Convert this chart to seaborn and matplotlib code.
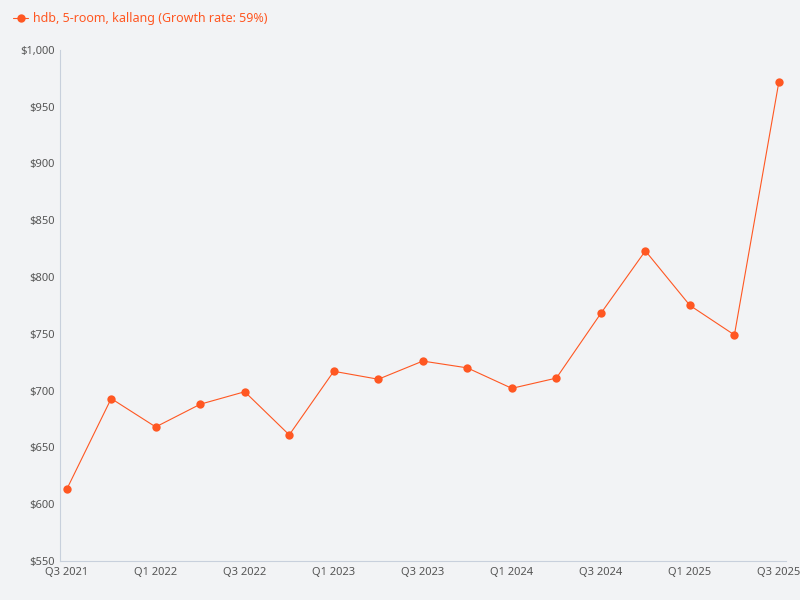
import matplotlib
matplotlib.use("Agg")
import matplotlib.pyplot as plt
import seaborn as sns
import pandas as pd
from matplotlib.ticker import FuncFormatter

quarters = ["Q3 2021","Q4 2021","Q1 2022","Q2 2022","Q3 2022","Q4 2022","Q1 2023","Q2 2023",
            "Q3 2023","Q4 2023","Q1 2024","Q2 2024","Q3 2024","Q4 2024","Q1 2025","Q2 2025","Q3 2025"]
values = [613,693,668,688,699,661,717,710,726,720,702,711,768,823,775,749,972]
tick_labels = ["Q3 2021","Q1 2022","Q3 2022","Q1 2023","Q3 2023","Q1 2024","Q3 2024","Q1 2025","Q3 2025"]

sns.set_theme(style="white")
plt.rcParams['font.family'] = ['Noto Sans', 'DejaVu Sans']
bg = "#f2f3f5"
color = "#ff5722"
df = pd.DataFrame({"x": range(len(quarters)), "v": values})

fig = plt.figure(figsize=(8, 6), dpi=100, facecolor=bg)
ax = fig.add_axes([0.075, 0.065, 0.907, 0.852])
ax.set_facecolor(bg)
sns.lineplot(data=df, x="x", y="v", ax=ax, color=color, linewidth=0.8, marker="o",
             markersize=6, markeredgewidth=0, label="hdb, 5-room, kallang (Growth rate: 59%)")
ax.set_xlim(-0.15, len(quarters) - 0.85)
ax.set_ylim(550, 1000)
ax.set_yticks(range(550, 1001, 50))
ax.yaxis.set_major_formatter(FuncFormatter(lambda v, p: f"${v:,.0f}"))
ax.set_xticks([quarters.index(t) for t in tick_labels])
ax.set_xticklabels(tick_labels)
ax.tick_params(axis='both', labelsize=8, colors="#555555", length=0, pad=4)
ax.set_xlabel(""); ax.set_ylabel("")
for s in ["top", "right"]:
    ax.spines[s].set_visible(False)
for s in ["left", "bottom"]:
    ax.spines[s].set_color("#c8d0dc"); ax.spines[s].set_linewidth(0.8)
leg = ax.legend(loc="upper left", bbox_to_anchor=(-0.08, 1.095), frameon=False,
                prop={"weight": "bold", "size": 9}, handlelength=1.2, handletextpad=0.4)
for t in leg.get_texts():
    t.set_color(color)
fig.savefig("out.png", dpi=100, facecolor=bg)
